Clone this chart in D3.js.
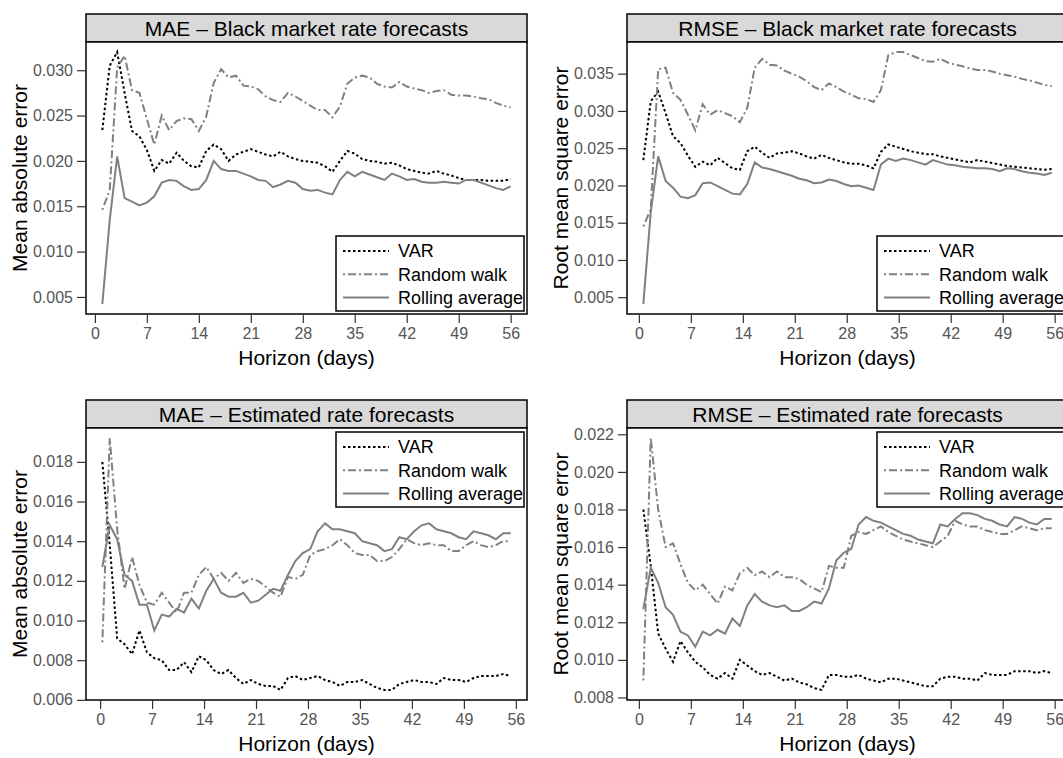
<!DOCTYPE html>
<html lang="en">
<head>
<meta charset="utf-8">
<title>Forecast errors by horizon</title>
<script src="https://cdn.jsdelivr.net/npm/d3@7"></script>
<style>
  body { margin: 0; background: #fff; }
  svg { display: block; font-family: "Liberation Sans", Arial, sans-serif; }
  .axis text { font-size: 16px; fill: #555; font-family: "Liberation Sans", Arial, sans-serif; }
  .axis line { stroke: #333; stroke-width: 1.2; }
  .axis path.domain { display: none; }
  .strip-text, .axis-title { font-size: 21px; fill: #000; }
  .legend-text { font-size: 18px; fill: #000; }
</style>
</head>
<body>
<script>
// horizons (days) and tick labels
const horizon = [1,2,3,4,5,6,7,8,9,10,11,12,13,14,15,16,17,18,19,20,21,22,23,24,25,26,27,28,
                 29,30,31,32,33,34,35,36,37,38,39,40,41,42,43,44,45,46,47,48,49,50,51,52,53,54,55,56];
const xTicks = [0, 7, 14, 21, 28, 35, 42, 49, 56];
const seriesNames = ["VAR", "Random walk", "Rolling average"];

// MAE - black market rate
const maeBlackVar = [0.0234,0.0305,0.0320,0.0275,0.0233,0.0227,0.0212,0.0189,0.0201,0.0197,
  0.0209,0.0200,0.0194,0.0193,0.0211,0.0218,0.0213,0.0200,0.0207,0.0210,
  0.0213,0.0210,0.0207,0.0205,0.0210,0.0205,0.0202,0.0200,0.0199,0.0198,
  0.0194,0.0188,0.0200,0.0211,0.0208,0.0202,0.0200,0.0199,0.0197,0.0198,
  0.0195,0.0191,0.0189,0.0187,0.0186,0.0189,0.0186,0.0184,0.0181,0.0179,
  0.0179,0.0179,0.0178,0.0178,0.0178,0.0180];
const maeBlackRw = [0.0146,0.0168,0.0303,0.0316,0.0278,0.0275,0.0246,0.0218,0.0250,0.0234,
  0.0244,0.0247,0.0246,0.0233,0.0249,0.0286,0.0301,0.0292,0.0294,0.0283,
  0.0282,0.0279,0.0271,0.0267,0.0265,0.0275,0.0271,0.0266,0.0261,0.0256,
  0.0256,0.0248,0.0260,0.0285,0.0292,0.0294,0.0292,0.0285,0.0282,0.0281,
  0.0287,0.0282,0.0280,0.0278,0.0275,0.0277,0.0278,0.0273,0.0272,0.0272,
  0.0271,0.0269,0.0268,0.0264,0.0261,0.0259];
const maeBlackRa = [0.00423,0.0135,0.0205,0.0159,0.0155,0.0151,0.0154,0.0161,0.0176,0.0179,
  0.0178,0.0172,0.0168,0.0169,0.0179,0.0200,0.0191,0.0189,0.0189,0.0186,
  0.0183,0.0179,0.0178,0.0171,0.0174,0.0178,0.0176,0.0169,0.0167,0.0168,
  0.0165,0.0163,0.0179,0.0188,0.0183,0.0188,0.0185,0.0182,0.0179,0.0186,
  0.0183,0.0179,0.0180,0.0177,0.0176,0.0176,0.0177,0.0176,0.0175,0.0179,
  0.0179,0.0176,0.0173,0.0170,0.0168,0.0172];

// RMSE - black market rate
const rmseBlackVar = [0.0234,0.0313,0.0326,0.0297,0.0266,0.0257,0.0240,0.0225,0.0232,0.0227,
  0.0237,0.0230,0.0223,0.0221,0.0246,0.0252,0.0244,0.0237,0.0243,0.0244,
  0.0246,0.0243,0.0239,0.0236,0.0241,0.0237,0.0234,0.0231,0.0229,0.0229,
  0.0227,0.0223,0.0245,0.0255,0.0252,0.0249,0.0246,0.0244,0.0242,0.0242,
  0.0239,0.0237,0.0235,0.0233,0.0231,0.0234,0.0232,0.0230,0.0228,0.0226,
  0.0225,0.0224,0.0223,0.0222,0.0221,0.0222];
const rmseBlackRw = [0.0145,0.0168,0.0356,0.0358,0.0324,0.0315,0.0295,0.0274,0.0309,0.0295,
  0.0301,0.0297,0.0293,0.0285,0.0304,0.0358,0.0370,0.0362,0.0361,0.0354,
  0.0350,0.0346,0.0340,0.0332,0.0328,0.0337,0.0332,0.0326,0.0322,0.0317,
  0.0316,0.0312,0.0328,0.0375,0.0379,0.0379,0.0375,0.0371,0.0367,0.0366,
  0.0370,0.0365,0.0362,0.0360,0.0357,0.0355,0.0355,0.0353,0.0350,0.0348,
  0.0346,0.0343,0.0341,0.0338,0.0335,0.0333];
const rmseBlackRa = [0.0041,0.0164,0.0239,0.0206,0.0197,0.0185,0.0183,0.0187,0.0203,0.0204,
  0.0199,0.0194,0.0189,0.0188,0.0202,0.0231,0.0224,0.0222,0.0219,0.0216,
  0.0213,0.0209,0.0207,0.0203,0.0204,0.0208,0.0206,0.0202,0.0199,0.0200,
  0.0197,0.0194,0.0228,0.0236,0.0233,0.0236,0.0234,0.0231,0.0228,0.0234,
  0.0231,0.0228,0.0227,0.0225,0.0224,0.0223,0.0223,0.0222,0.0219,0.0223,
  0.0222,0.0219,0.0217,0.0216,0.0214,0.0217];

// MAE - estimated rate
const maeEstVar = [0.0180,0.0138,0.0091,0.0088,0.0083,0.0095,0.0084,0.0081,0.0080,0.0075,
  0.0075,0.0079,0.0074,0.0082,0.0080,0.0075,0.0073,0.0075,0.0071,0.0068,
  0.0070,0.0068,0.0067,0.0067,0.0065,0.0071,0.0072,0.0070,0.0071,0.0072,
  0.0070,0.0069,0.0067,0.0069,0.0069,0.0070,0.0068,0.0066,0.0065,0.0065,
  0.0068,0.0069,0.0070,0.0069,0.0069,0.0068,0.0071,0.0070,0.0070,0.0069,
  0.0071,0.0072,0.0072,0.0072,0.0073,0.0072];
const maeEstRw = [0.0089,0.0192,0.0146,0.0116,0.0132,0.0118,0.0109,0.0108,0.0114,0.0109,
  0.0104,0.0114,0.0114,0.0123,0.0127,0.0121,0.0124,0.0120,0.0124,0.0119,
  0.0121,0.0120,0.0117,0.0114,0.0112,0.0122,0.0121,0.0123,0.0133,0.0135,
  0.0136,0.0138,0.0141,0.0138,0.0134,0.0133,0.0133,0.0130,0.0130,0.0132,
  0.0136,0.0141,0.0139,0.0138,0.0139,0.0138,0.0138,0.0135,0.0135,0.0138,
  0.0140,0.0138,0.0137,0.0138,0.0140,0.0140];
const maeEstRa = [0.0127,0.0148,0.0141,0.0123,0.0120,0.0108,0.0108,0.0095,0.0103,0.0102,
  0.0106,0.0104,0.0111,0.0106,0.0115,0.0121,0.0114,0.0112,0.0112,0.0114,
  0.0109,0.0110,0.0113,0.0116,0.0115,0.0123,0.0130,0.0134,0.0136,0.0145,
  0.0149,0.0146,0.0146,0.0145,0.0144,0.0140,0.0139,0.0138,0.0135,0.0136,
  0.0142,0.0141,0.0145,0.0148,0.0149,0.0146,0.0145,0.0144,0.0142,0.0141,
  0.0145,0.0144,0.0143,0.0141,0.0144,0.0144];

// RMSE - estimated rate
const rmseEstVar = [0.0180,0.0150,0.0114,0.0106,0.0099,0.0110,0.0104,0.0099,0.0096,0.0092,
  0.0090,0.0093,0.0090,0.0100,0.0097,0.0094,0.0092,0.0093,0.0091,0.0089,
  0.0090,0.0088,0.0087,0.0085,0.0084,0.0092,0.0092,0.0091,0.0091,0.0092,
  0.0090,0.0089,0.0088,0.0090,0.0090,0.0089,0.0088,0.0087,0.0086,0.0086,
  0.0090,0.0091,0.0091,0.0090,0.0090,0.0089,0.0093,0.0092,0.0092,0.0092,
  0.0094,0.0094,0.0094,0.0093,0.0094,0.0093];
const rmseEstRw = [0.0089,0.0218,0.0180,0.0160,0.0162,0.0151,0.0141,0.0137,0.0140,0.0135,
  0.0130,0.0139,0.0137,0.0146,0.0149,0.0145,0.0147,0.0144,0.0147,0.0144,
  0.0144,0.0143,0.0140,0.0138,0.0136,0.0150,0.0149,0.0149,0.0166,0.0168,
  0.0167,0.0169,0.0171,0.0168,0.0166,0.0164,0.0163,0.0162,0.0161,0.0160,
  0.0163,0.0166,0.0174,0.0172,0.0171,0.0171,0.0169,0.0168,0.0167,0.0167,
  0.0169,0.0171,0.0170,0.0169,0.0170,0.0170];
const rmseEstRa = [0.0127,0.0149,0.0141,0.0128,0.0124,0.0115,0.0113,0.0107,0.0115,0.0113,
  0.0116,0.0114,0.0122,0.0118,0.0129,0.0135,0.0131,0.0129,0.0128,0.0129,
  0.0126,0.0126,0.0128,0.0131,0.0130,0.0138,0.0153,0.0157,0.0159,0.0172,
  0.0176,0.0174,0.0173,0.0171,0.0169,0.0167,0.0166,0.0164,0.0163,0.0162,
  0.0172,0.0171,0.0175,0.0178,0.0178,0.0177,0.0175,0.0174,0.0172,0.0171,
  0.0176,0.0175,0.0173,0.0172,0.0175,0.0175];

// y tick values per panel
const yTicksMaeBlack = [0.005, 0.010, 0.015, 0.020, 0.025, 0.030];
const yTicksRmseBlack = [0.005, 0.010, 0.015, 0.020, 0.025, 0.030, 0.035];
const yTicksMaeEst = [0.006, 0.008, 0.010, 0.012, 0.014, 0.016, 0.018];
const yTicksRmseEst = [0.008, 0.010, 0.012, 0.014, 0.016, 0.018, 0.020, 0.022];

// panel setup (shift = where the series sit relative to the day number)
const panels = [
  {title: "MAE \u2013 Black market rate forecasts", ylab: "Mean absolute error",
   series: [maeBlackVar, maeBlackRw, maeBlackRa], yTicks: yTicksMaeBlack,
   shift: 0, left: 86, top: 14, legend: "bottom"},
  {title: "RMSE \u2013 Black market rate forecasts", ylab: "Root mean square error",
   series: [rmseBlackVar, rmseBlackRw, rmseBlackRa], yTicks: yTicksRmseBlack,
   shift: -0.4, left: 627, top: 14, legend: "bottom"},
  {title: "MAE \u2013 Estimated rate forecasts", ylab: "Mean absolute error",
   series: [maeEstVar, maeEstRw, maeEstRa], yTicks: yTicksMaeEst,
   shift: -0.7, left: 86, top: 400, legend: "top"},
  {title: "RMSE \u2013 Estimated rate forecasts", ylab: "Root mean square error",
   series: [rmseEstVar, rmseEstRw, rmseEstRa], yTicks: yTicksRmseEst,
   shift: -0.4, left: 627, top: 400, legend: "top"}
];

// line styles: VAR dotted black, random walk dash-dot grey, rolling average solid grey
const styles = [
  {stroke: "#000", dash: "2.5,2.5", width: 2},
  {stroke: "#808080", dash: "2,3,8,3", width: 2},
  {stroke: "#808080", dash: null, width: 2}
];

const W = 1063, H = 758;
const frameW = 441, stripH = 28, plotH = 272;

const svg = d3.select("body").append("svg")
  .attr("width", W)
  .attr("height", H);

// R style range: data extent padded by 4% each side
function padded(ext) {
  const d = (ext[1] - ext[0]) * 0.04;
  return [ext[0] - d, ext[1] + d];
}

panels.forEach(function(p) {
  const g = svg.append("g").attr("transform", "translate(" + p.left + "," + p.top + ")");
  const plotTop = stripH;
  const plotBottom = stripH + plotH;

  const xs = horizon.map(h => h + p.shift);
  const allY = [].concat(...p.series);

  const x = d3.scaleLinear().domain(padded(d3.extent(xs))).range([0, frameW]);
  const y = d3.scaleLinear().domain(padded(d3.extent(allY))).range([plotBottom, plotTop]);

  // strip with title
  g.append("rect")
    .attr("x", 0).attr("y", 0)
    .attr("width", frameW).attr("height", stripH)
    .style("fill", "#d9d9d9").style("stroke", "#000").style("stroke-width", 1.5);
  g.append("text")
    .attr("class", "strip-text")
    .attr("x", frameW / 2).attr("y", stripH / 2)
    .attr("dy", "0.36em")
    .attr("text-anchor", "middle")
    .text(p.title);

  // plot frame
  g.append("rect")
    .attr("x", 0).attr("y", plotTop)
    .attr("width", frameW).attr("height", plotH)
    .style("fill", "#fff").style("stroke", "#000").style("stroke-width", 1.5);

  // axes
  g.append("g")
    .attr("class", "axis")
    .call(d3.axisLeft(y).tickValues(p.yTicks).tickFormat(d3.format(".3f")).tickSize(9).tickPadding(4));

  g.append("g")
    .attr("class", "axis")
    .attr("transform", "translate(0," + plotBottom + ")")
    .call(d3.axisBottom(x).tickValues(xTicks).tickFormat(d3.format("d")).tickSize(9).tickPadding(5));

  // axis titles
  g.append("text")
    .attr("class", "axis-title")
    .attr("x", frameW / 2).attr("y", plotBottom + 51)
    .attr("text-anchor", "middle")
    .text("Horizon (days)");

  g.append("text")
    .attr("class", "axis-title")
    .attr("transform", "translate(-59," + ((plotTop + plotBottom) / 2) + ") rotate(-90)")
    .attr("text-anchor", "middle")
    .text(p.ylab);

  // series lines
  const line = d3.line()
    .x(d => x(d[0]))
    .y(d => y(d[1]));

  p.series.forEach(function(vals, i) {
    g.append("path")
      .datum(vals.map((v, j) => [xs[j], v]))
      .attr("d", line)
      .style("fill", "none")
      .style("stroke", styles[i].stroke)
      .style("stroke-width", styles[i].width)
      .style("stroke-dasharray", styles[i].dash);
  });

  // legend
  const lw = 188, lh = 75;
  const lx = frameW - 3 - lw;
  const ly = p.legend == "bottom" ? plotBottom - 3 - lh : plotTop + 4;
  const lg = g.append("g").attr("transform", "translate(" + lx + "," + ly + ")");
  lg.append("rect")
    .attr("width", lw).attr("height", lh)
    .style("fill", "#fff").style("stroke", "#000").style("stroke-width", 1.5);
  seriesNames.forEach(function(name, i) {
    const ry = 15 + i * 23.3;
    lg.append("line")
      .attr("x1", 7).attr("x2", 53)
      .attr("y1", ry).attr("y2", ry)
      .style("stroke", styles[i].stroke)
      .style("stroke-width", styles[i].width)
      .style("stroke-dasharray", styles[i].dash);
    lg.append("text")
      .attr("class", "legend-text")
      .attr("x", 62).attr("y", ry)
      .attr("dy", "0.35em")
      .text(name);
  });
});
</script>
</body>
</html>
